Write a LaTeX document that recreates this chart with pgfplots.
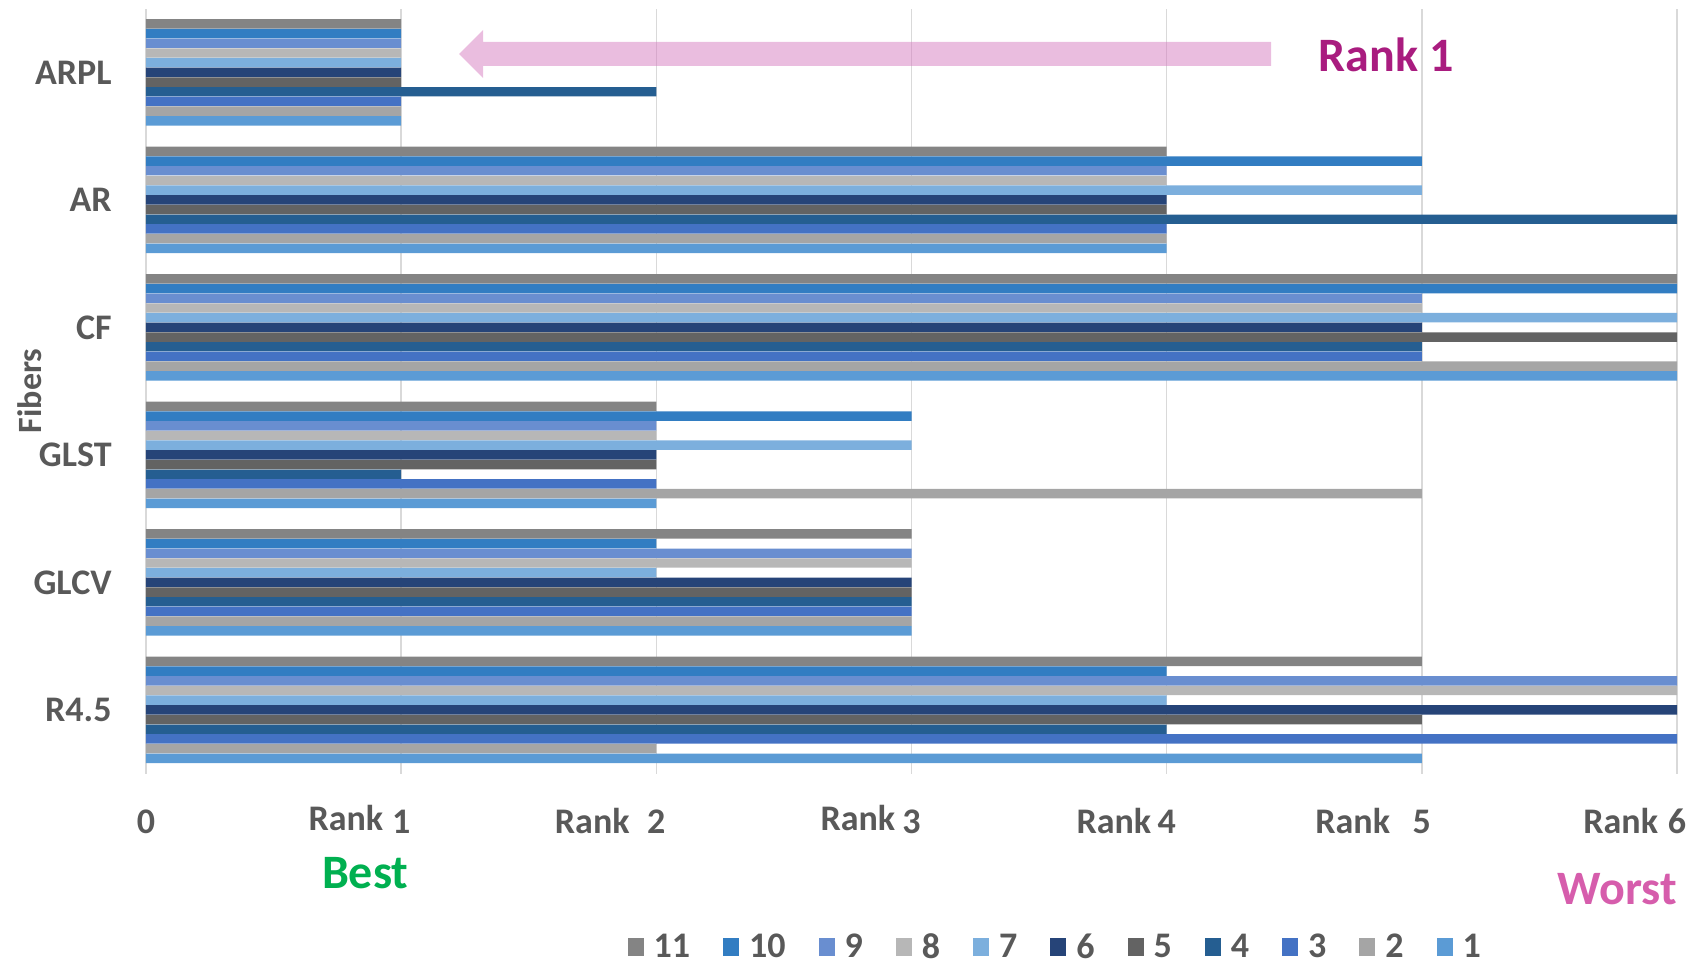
\documentclass[border=0pt]{standalone}
\usepackage{fontspec}
\setmainfont{Carlito}
\usepackage{pgfplots}
\pgfplotsset{compat=1.18}
\definecolor{s1}{HTML}{5B9BD5}
\definecolor{s2}{HTML}{A5A5A5}
\definecolor{s3}{HTML}{4472C4}
\definecolor{s4}{HTML}{255E91}
\definecolor{s5}{HTML}{636363}
\definecolor{s6}{HTML}{264478}
\definecolor{s7}{HTML}{7CAFDD}
\definecolor{s8}{HTML}{B7B7B7}
\definecolor{s9}{HTML}{698ED0}
\definecolor{s10}{HTML}{327DC2}
\definecolor{s11}{HTML}{848484}
\definecolor{txt}{HTML}{595959}
\definecolor{gridc}{HTML}{D9D9D9}
\definecolor{rankmag}{HTML}{A91C7F}
\definecolor{bestgreen}{HTML}{00B050}
\definecolor{worstpink}{HTML}{D65DAC}
\definecolor{arrowpink}{HTML}{D67BC0}
\newcommand{\fs}[1]{\fontsize{#1}{#1}\selectfont\bfseries}
\begin{document}
\begin{tikzpicture}
\begin{axis}[
  at={(73pt,96.2pt)}, anchor=south west,
  scale only axis, width=765.5pt, height=382.5pt,
  xbar, bar width=0.074,
  xmin=0, xmax=6, ymin=-0.5, ymax=5.5,
  xtick={0,1,2,3,4,5,6}, xticklabels={0,1,2,3,4,5,6},
  ytick={0,1,2,3,4,5}, yticklabels={R4.5,GLCV,GLST,CF,AR,ARPL},
  xmajorgrids, grid style={color=gridc, line width=0.75pt},
  axis line style={draw=none}, major tick length=0pt,
  tick label style={font=\fs{18}, text=txt},
  xticklabel style={anchor=base, inner sep=0pt, yshift=-29.7pt},
  yticklabel style={anchor=east, inner sep=0pt, xshift=-17pt},
  legend image code/.code={\fill[#1] (0pt,-4.5pt) rectangle (8pt,4.5pt);},
  legend style={at={(0.5965,-0.227)}, anchor=center, draw=none, fill=none,
    legend columns=-1, font=\fs{18}, text=txt,
    nodes={inner xsep=5pt, inner ysep=1.25pt},
    /tikz/every even column/.append style={column sep=11.5pt}},
]
\addplot[fill=s11, draw=none, bar shift=0.380] coordinates {(1,5) (4,4) (6,3) (2,2) (3,1) (5,0)};
\addplot[fill=s10, draw=none, bar shift=0.304] coordinates {(1,5) (5,4) (6,3) (3,2) (2,1) (4,0)};
\addplot[fill=s9,  draw=none, bar shift=0.228] coordinates {(1,5) (4,4) (5,3) (2,2) (3,1) (6,0)};
\addplot[fill=s8,  draw=none, bar shift=0.152] coordinates {(1,5) (4,4) (5,3) (2,2) (3,1) (6,0)};
\addplot[fill=s7,  draw=none, bar shift=0.076] coordinates {(1,5) (5,4) (6,3) (3,2) (2,1) (4,0)};
\addplot[fill=s6,  draw=none, bar shift=0.000] coordinates {(1,5) (4,4) (5,3) (2,2) (3,1) (6,0)};
\addplot[fill=s5,  draw=none, bar shift=-0.076] coordinates {(1,5) (4,4) (6,3) (2,2) (3,1) (5,0)};
\addplot[fill=s4,  draw=none, bar shift=-0.152] coordinates {(2,5) (6,4) (5,3) (1,2) (3,1) (4,0)};
\addplot[fill=s3,  draw=none, bar shift=-0.228] coordinates {(1,5) (4,4) (5,3) (2,2) (3,1) (6,0)};
\addplot[fill=s2,  draw=none, bar shift=-0.304] coordinates {(1,5) (4,4) (6,3) (5,2) (3,1) (2,0)};
\addplot[fill=s1,  draw=none, bar shift=-0.380] coordinates {(1,5) (4,4) (6,3) (2,2) (3,1) (5,0)};
\legend{11,10,9,8,7,6,5,4,3,2,1}
\end{axis}
% annotations
\fill[arrowpink, opacity=0.5] (229.5pt,456pt) -- (241.5pt,468pt) -- (241.5pt,462pt) -- (635.5pt,462pt) -- (635.5pt,450pt) -- (241.5pt,450pt) -- (241.5pt,444pt) -- cycle;
\node[anchor=base, text=rankmag, font=\fs{24}, inner sep=0pt] at (693pt,447pt) {Rank 1};
\node[anchor=base, text=bestgreen, font=\fs{24}, inner sep=0pt] at (182.6pt,39pt) {Best};
\node[anchor=base, text=worstpink, font=\fs{24}, inner sep=0pt] at (808.6pt,31pt) {Worst};
\node[rotate=90, anchor=center, text=txt, font=\fs{17}, inner sep=0pt] at (14.6pt,287.6pt) {Fibers};
\node[anchor=base east, text=txt, font=\fs{18}, inner sep=0pt] at (191.8pt,68pt) {Rank};
\node[anchor=base east, text=txt, font=\fs{18}, inner sep=0pt] at (315pt,66.5pt) {Rank};
\node[anchor=base east, text=txt, font=\fs{18}, inner sep=0pt] at (447.8pt,68pt) {Rank};
\node[anchor=base east, text=txt, font=\fs{18}, inner sep=0pt] at (575.8pt,66.5pt) {Rank};
\node[anchor=base east, text=txt, font=\fs{18}, inner sep=0pt] at (695.2pt,66.5pt) {Rank};
\node[anchor=base east, text=txt, font=\fs{18}, inner sep=0pt] at (829.2pt,66.5pt) {Rank};
\pgfresetboundingbox
\path[use as bounding box] (0pt,0pt) rectangle (847pt,483pt);
\end{tikzpicture}
\end{document}
